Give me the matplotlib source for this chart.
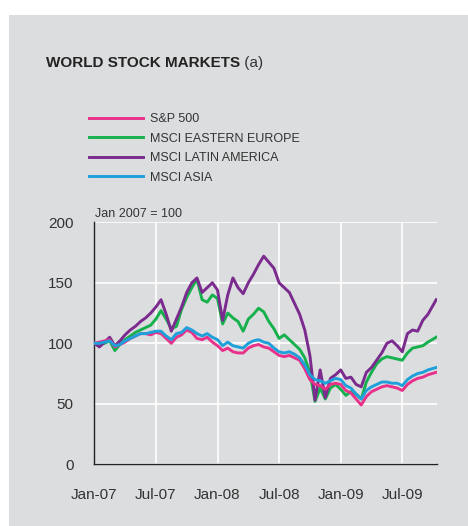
import numpy as np
import matplotlib
matplotlib.use("Agg")
import matplotlib.pyplot as plt
from matplotlib.patches import Rectangle

plt.rcParams['font.family'] = ['Liberation Sans', 'DejaVu Sans']

### Data (index, Jan 2007 = 100), half-month steps ###
months = np.append(np.arange(0, 33, 0.5), 33.3)

sp500 = [100, 101, 102, 103, 97, 99, 101, 104, 106, 108, 108, 107, 109, 108, 104, 100,
         105, 107, 111, 109, 104, 103, 105, 101, 98, 94, 96, 93, 92, 92, 96, 98,
         99, 97, 96, 93, 90, 89, 90, 88, 86, 79, 70, 66, 65, 62, 66, 67,
         66, 61, 59, 54, 49, 56, 60, 62, 64, 65, 64, 63, 61, 66, 69, 71,
         72, 74, 76]
eastern_europe = [100, 99, 100, 102, 94, 99, 103, 106, 109, 111, 113, 115, 120, 127, 120, 112,
                  114, 128, 138, 146, 153, 136, 134, 140, 137, 116, 125, 121, 118, 110, 120, 124,
                  129, 126, 118, 112, 104, 107, 103, 99, 95, 88, 76, 52, 63, 54, 63, 66,
                  62, 57, 60, 58, 54, 68, 76, 83, 87, 89, 88, 87, 86, 92, 96, 97,
                  98, 101, 105]
latin_america = [100, 97, 101, 105, 98, 102, 107, 111, 114, 118, 121, 125, 130, 136, 124, 110,
                 120, 130, 142, 150, 154, 142, 146, 150, 144, 119, 140, 154, 146, 141, 150, 157,
                 165, 172, 167, 162, 150, 146, 142, 133, 124, 111, 90, 53, 78, 55, 71, 74,
                 78, 71, 72, 66, 64, 76, 80, 86, 92, 100, 102, 98, 93, 108, 111, 110,
                 119, 124, 136]
asia = [100, 100, 101, 102, 98, 99, 102, 104, 106, 108, 108, 109, 110, 110, 106, 103,
        108, 109, 113, 111, 108, 106, 108, 105, 103, 98, 101, 98, 97, 96, 100, 102,
        103, 101, 100, 96, 93, 92, 93, 91, 88, 82, 74, 70, 69, 67, 69, 71,
        70, 65, 63, 58, 54, 61, 64, 66, 68, 68, 67, 67, 65, 70, 73, 75,
        76, 78, 80]

tick_pos = [0, 6, 12, 18, 24, 30]
tick_labels = ['Jan-07', 'Jul-07', 'Jan-08', 'Jul-08', 'Jan-09', 'Jul-09']

### Colours ###
BG = '#dcdddf'
TXT = '#333333'
PINK = '#e8318a'
GREEN = '#16b14d'
PURPLE = '#7b2a8e'
BLUE = '#1ea0da'

fig = plt.figure(figsize=(4.68, 5.26), dpi=100)
fig.patch.set_facecolor('white')
fig.add_artist(Rectangle((9 / 468, 0), 1, 1 - 15 / 526, transform=fig.transFigure,
                         facecolor=BG, edgecolor='none', zorder=0))

ax = fig.add_axes([0.2015, 0.1173, 0.7316, 0.4601])
ax.set_facecolor(BG)

lw = 2.1
l_ee, = ax.plot(months, eastern_europe, color=GREEN, lw=lw, zorder=3)
l_la, = ax.plot(months, latin_america, color=PURPLE, lw=lw, zorder=3)
l_sp, = ax.plot(months, sp500, color=PINK, lw=lw, zorder=4)
l_as, = ax.plot(months, asia, color=BLUE, lw=lw, zorder=5)

ax.set_xlim(0, 33.35)
ax.set_ylim(0, 200)
ax.set_yticks([0, 50, 100, 150, 200])
ax.set_xticks(tick_pos)
ax.set_xticklabels(tick_labels)
ax.grid(True, color='white', lw=1.2, zorder=1)
ax.set_axisbelow(True)
ax.tick_params(length=0, labelsize=11, labelcolor=TXT)
ax.tick_params(axis='y', pad=15)
ax.tick_params(axis='x', pad=17)
for s in ['top', 'right']:
    ax.spines[s].set_visible(False)
for s in ['left', 'bottom']:
    ax.spines[s].set_color('#222222')
    ax.spines[s].set_linewidth(1.0)

ax.text(0.003, 1.035, 'Jan 2007 = 100', transform=ax.transAxes, fontsize=9,
        color=TXT, va='center', ha='left')

# title: bold part, then "(a)" right after it
t = fig.text(46 / 468, 1 - 63 / 526, 'WORLD STOCK MARKETS', fontsize=11,
             fontweight='bold', color='#222222', va='center', ha='left')
ax.annotate(' (a)', xy=(1, 0.5), xycoords=t, fontsize=11, color=TXT,
            va='center', ha='left', annotation_clip=False)

fig.legend([l_sp, l_ee, l_la, l_as],
           ['S&P 500', 'MSCI EASTERN EUROPE', 'MSCI LATIN AMERICA', 'MSCI ASIA'],
           loc='upper left', bbox_to_anchor=(78 / 468, 1 - 102 / 526),
           frameon=False, fontsize=9, handlelength=4.3, handletextpad=0.55,
           labelspacing=0.6, labelcolor=TXT)

fig.savefig('out.png', dpi=100, facecolor='white')
